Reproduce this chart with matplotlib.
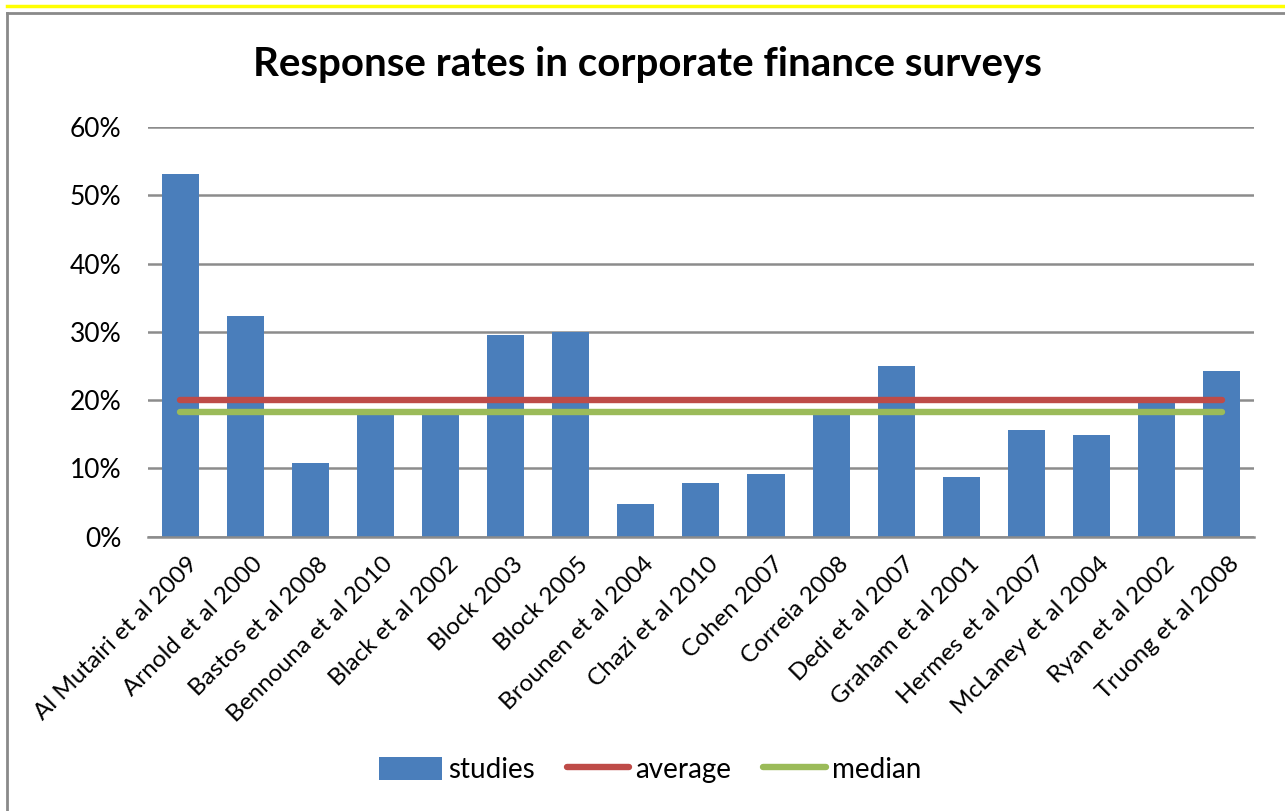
import matplotlib.pyplot as plt
from matplotlib.lines import Line2D
from matplotlib.patches import Patch
from matplotlib.ticker import PercentFormatter
from matplotlib.transforms import ScaledTranslation
import numpy as np

# response rate per study (fraction of firms that answered)
studies = [
    "Al Mutairi et al 2009", "Arnold et al 2000", "Bastos et al 2008",
    "Bennouna et al 2010", "Black et al 2002", "Block 2003", "Block 2005",
    "Brounen et al 2004", "Chazi et al 2010", "Cohen 2007", "Correia 2008",
    "Dedi et al 2007", "Graham et al 2001", "Hermes et al 2007",
    "McLaney et al 2004", "Ryan et al 2002", "Truong et al 2008",
]
response_rates = [
    0.531, 0.323, 0.108, 0.183, 0.183, 0.296, 0.300, 0.048, 0.078,
    0.092, 0.183, 0.250, 0.088, 0.156, 0.149, 0.200, 0.243,
]
y_ticks = [0, 0.1, 0.2, 0.3, 0.4, 0.5, 0.6]

BLUE = "#4a7ebb"
RED = "#be4b48"
GREEN = "#9bbb59"
GRID = "#8c8c8c"
FONT = "Lato"

rates = np.array(response_rates)
avg = rates.mean()
med = np.median(rates)
x = np.arange(len(studies))

fig = plt.figure(figsize=(12.85, 8.11), dpi=100)
ax = fig.add_axes([0.1148, 0.3382, 0.8613, 0.5052])

ax.bar(x, rates, width=0.57, color=BLUE, zorder=2)
ax.plot(x, np.full(len(x), avg), color=RED, lw=4.6,
        solid_capstyle="round", zorder=3)
ax.plot(x, np.full(len(x), med), color=GREEN, lw=4.6,
        solid_capstyle="round", zorder=3)

ax.set_xlim(-0.5, len(x) - 0.5)
ax.set_ylim(0, 0.6)
ax.set_yticks(y_ticks)
ax.yaxis.set_major_formatter(PercentFormatter(1.0, decimals=0))
ax.grid(axis="y", color=GRID, lw=1.8, zorder=0)
for side in ["top", "right", "left"]:
    ax.spines[side].set_visible(False)
ax.spines["bottom"].set_color(GRID)
ax.spines["bottom"].set_linewidth(1.8)
ax.tick_params(axis="y", length=0, pad=19, labelsize=19)
ax.tick_params(axis="x", length=0, pad=12)
for lbl in ax.get_yticklabels():
    lbl.set_fontfamily(FONT)

ax.set_xticks(x)
ax.set_xticklabels(studies, rotation=45, ha="right", va="top",
                   rotation_mode="anchor", fontsize=17.5, family=FONT)
# nudge the slanted labels a little to the right
shift = ScaledTranslation(7 / 100, 0, fig.dpi_scale_trans)
for lbl in ax.get_xticklabels():
    lbl.set_transform(lbl.get_transform() + shift)

fig.text(0.5035, 0.92, "Response rates in corporate finance surveys",
         ha="center", va="center", fontsize=29, fontweight="bold", family=FONT)

handles = [
    Patch(facecolor=BLUE, label="studies"),
    Line2D([], [], color=RED, lw=4.6, solid_capstyle="round", label="average"),
    Line2D([], [], color=GREEN, lw=4.6, solid_capstyle="round", label="median"),
]
fig.legend(handles=handles, loc="center", bbox_to_anchor=(0.506, 0.0506),
           ncol=3, frameon=False, prop={"family": FONT, "size": 20},
           handlelength=2.25, handleheight=0.9, handletextpad=0.22,
           columnspacing=1.15, borderpad=0)

# chart frame and the rule above it
fig.add_artist(Line2D([7 / 1285, 7 / 1285], [0, 1 - 12.5 / 811],
                      color="#8a8a8a", lw=2, transform=fig.transFigure))
fig.add_artist(Line2D([7 / 1285, 1], [1 - 12.5 / 811, 1 - 12.5 / 811],
                      color="#8a8a8a", lw=2, transform=fig.transFigure))
fig.add_artist(Line2D([7 / 1285, 1], [1 - 6 / 811, 1 - 6 / 811],
                      color="#ffff00", lw=2.5, transform=fig.transFigure))

fig.savefig("out.png", dpi=100)
